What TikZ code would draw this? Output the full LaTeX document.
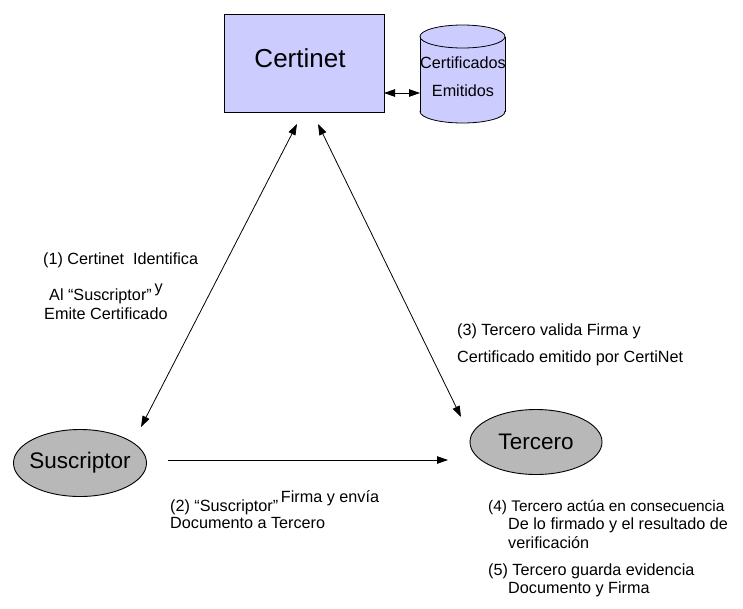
\documentclass[tikz,border=0pt]{standalone}
\usepackage{fontspec}
\setmainfont{Liberation Sans}
\usetikzlibrary{arrows.meta,shapes.geometric}
\definecolor{lav}{HTML}{CCCCFF}
\definecolor{ellgray}{HTML}{B8B8B8}
\begin{document}
\begin{tikzpicture}[x=1pt,y=-1pt,
  txt/.style={font=\fontsize{16.2}{19}\selectfont, inner sep=0pt, anchor=base west},
  arr/.style={line width=0.8pt, -{Triangle[length=11pt,width=7.5pt]}},
  darr/.style={line width=0.8pt, {Triangle[length=11pt,width=7.5pt]}-{Triangle[length=11pt,width=7.5pt]}},
  actor/.style={ellipse, draw, line width=0.9pt, fill=ellgray, inner xsep=-8pt, inner ysep=0pt, font=\fontsize{22.5}{26}\selectfont}]
\useasboundingbox (0,0) rectangle (743,608);

% Certinet box
\node[draw, line width=0.8pt, fill=lav, minimum width=160pt, minimum height=98pt, inner sep=0pt] (cert) at (304,63) {};
\node[font=\fontsize{26}{30}\selectfont, inner sep=0pt] (certtxt) at (300,58) {Certinet};

% Cylinder (database)
\fill[lav] (420,36.5) rectangle (505,111.5);
\fill[lav] (462.5,111.5) ellipse [x radius=42.5pt, y radius=11.5pt];
\draw[line width=0.8pt, fill=lav] (462.5,36.5) ellipse [x radius=42.5pt, y radius=11.5pt];
\draw[line width=0.8pt] (420,36.5) -- (420,111.5);
\draw[line width=0.8pt] (505,36.5) -- (505,111.5);
\begin{scope}
  \clip (410,111.5) rectangle (515,130);
  \draw[line width=0.8pt] (462.5,111.5) ellipse [x radius=42.5pt, y radius=11.5pt];
\end{scope}
\node[minimum width=85pt, minimum height=98pt, inner sep=0pt] (db) at (462.5,74) {};
\node[font=\fontsize{16.2}{19}\selectfont, inner sep=0pt] (dbt1) at (463,63) {Certificados};
\node[font=\fontsize{16.2}{19}\selectfont, inner sep=0pt] (dbt2) at (463,91) {Emitidos};

% Actors
\node[actor, minimum width=133pt, minimum height=67pt] (sus) at (80,463) {Suscriptor};
\node[actor, minimum width=132pt, minimum height=65pt] (ter) at (536,442) {Tercero};

% connector end points
\coordinate (c1) at (384,93);
\coordinate (d1) at (420,93);
\coordinate (ct1) at (297,124);
\coordinate (sb1) at (141,427);
\coordinate (ct2) at (318,124);
\coordinate (tb1) at (461,417);
\coordinate (s2) at (168,460);
\coordinate (t2) at (448,460);

\draw[darr] (c1) -- (d1);
\draw[darr] (ct1) -- (sb1);
\draw[darr] (ct2) -- (tb1);
\draw[arr] (s2) -- (t2);

% Labels
\node[txt] (l1a) at (43,264) {(1) Certinet\ \ Identifica};
\node[txt] (l1b) at (49,300) {Al “Suscriptor”\,\raisebox{8pt}{y}};
\node[txt] (l1c) at (44,319) {Emite Certificado};

\node[txt] (l3a) at (457,335) {(3) Tercero valida Firma y};
\node[txt] (l3b) at (457,362) {Certificado emitido por CertiNet};

\node[txt] (l2a) at (170,511) {(2) “Suscriptor”\,\raisebox{9pt}{Firma y envía}};
\node[txt] (l2b) at (170,528) {Documento a Tercero};

\node[txt, font=\fontsize{15.4}{18}\selectfont] (l4a) at (488,511) {(4) Tercero actúa en consecuencia};
\node[txt] (l4b) at (508,529) {De lo firmado y el resultado de};
\node[txt] (l4c) at (508,548) {verificación};
\node[txt] (l5a) at (488,575) {(5) Tercero guarda evidencia};
\node[txt] (l5b) at (508,593) {Documento y Firma};
\end{tikzpicture}
\end{document}
